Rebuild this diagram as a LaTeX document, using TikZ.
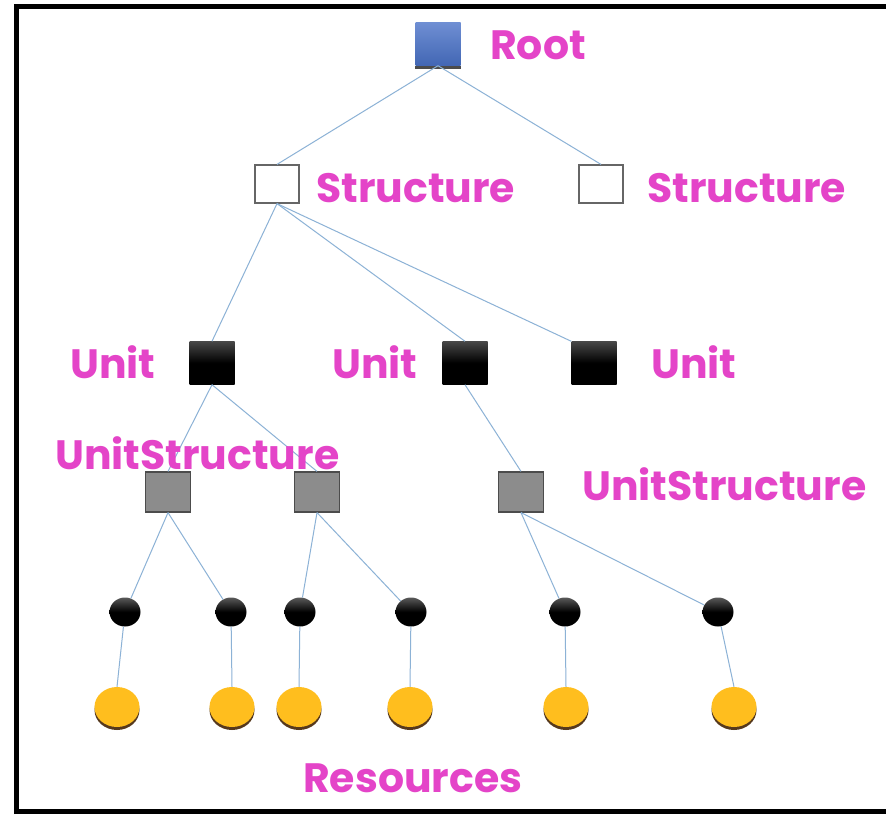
\documentclass[tikz,border=0pt]{standalone}
\usepackage{fontspec}
\setmainfont{Poppins}
\usetikzlibrary{shadows,shapes.geometric}
\definecolor{lbl}{RGB}{228,68,200}
\definecolor{edge}{RGB}{140,178,214}
\definecolor{rootblue}{RGB}{74,114,200}
\definecolor{gold}{RGB}{255,190,30}
\tikzset{
  lab/.style={text=lbl, font=\fontsize{41}{46}\selectfont\bfseries, inner sep=0pt},
  link/.style={draw=edge, line width=1pt},
  rootbox/.style={minimum width=45pt, minimum height=43pt, inner sep=0pt, top color=rootblue!80!white, bottom color=rootblue!90!black, draw=none},
  structbox/.style={minimum width=44pt, minimum height=38pt, inner sep=0pt, fill=white, draw=black!60, line width=1.2pt},
  unitbox/.style={minimum width=45pt, minimum height=43pt, inner sep=0pt, top color=black!72, bottom color=black, middle color=black, draw=none},
  usbox/.style={minimum width=45pt, minimum height=40pt, inner sep=0pt, fill=black!45, draw=black!70, line width=1.2pt},
  knot/.style={ellipse, minimum width=31pt, minimum height=29pt, inner sep=0pt, top color=black!65, bottom color=black, middle color=black},
  res/.style={ellipse, minimum width=45pt, minimum height=40pt, inner sep=0pt, fill=gold, drop shadow={shadow xshift=0pt, shadow yshift=-3pt, fill=black!55!brown, opacity=1}},
}
\begin{document}
\begin{tikzpicture}[x=1pt,y=-1pt]
\useasboundingbox (0,0) rectangle (886,814);
\fill[white] (0,0) rectangle (886,814);
% frame
\draw[line width=5pt] (16.5,814) -- (16.5,6.5) -- (886,6.5);
\draw[line width=5pt] (16.5,811.5) -- (886,811.5);

% nodes
\node[rootbox] (root) at (438,44) {};
\fill[black!70] (root.south west) rectangle ([yshift=-3pt]root.south east);
\node[structbox] (s1) at (277,184) {};
\node[structbox] (s2) at (601,184) {};
\node[unitbox] (u1) at (212,363) {};
\node[unitbox] (u2) at (465,363) {};
\node[unitbox] (u3) at (594,363) {};
\node[usbox] (us1) at (168,492) {};
\node[usbox] (us2) at (317,492) {};
\node[usbox] (us3) at (521,492) {};

\foreach \i/\x in {1/125,2/231,3/300,4/411,5/565,6/718}
  \node[knot] (k\i) at (\x,612) {};
\foreach \i/\x in {1/117,2/232,3/299,4/410,5/566,6/734}
  \node[res] (r\i) at (\x,707) {};

% edges
\draw[link] (root.south) -- (s1.north);
\draw[link] (root.south) -- (s2.north);
\draw[link] (s1.south) -- (u1.north);
\draw[link] (s1.south) -- (u2.north);
\draw[link] (s1.south) -- (u3.north west);
\draw[link] (u1.south) -- (us1.north);
\draw[link] (u1.south) -- (us2.north);
\draw[link] (u2.south) -- (us3.north);
\draw[link] (us1.south) -- (k1);
\draw[link] (us1.south) -- (k2);
\draw[link] (us2.south) -- (k3);
\draw[link] (us2.south) -- (k4);
\draw[link] (us3.south) -- (k5);
\draw[link] (us3.south) -- (k6);
\foreach \i in {1,...,6} \draw[link] (k\i) -- (r\i.north);

% labels
\node[lab, anchor=west] (lroot) at (490,45) {Root};
\node[lab, anchor=west] (ls1) at (316,188) {Structure};
\node[lab, anchor=west] (ls2) at (647,188) {Structure};
\node[lab, anchor=west] (lu1) at (70,362) {Unit};
\node[lab, anchor=west] (lu2) at (332,362) {Unit};
\node[lab, anchor=west] (lu3) at (651,362) {Unit};
\node[lab, anchor=west] (lus1) at (55,453) {UnitStructure};
\node[lab, anchor=west] (lus2) at (582,484) {UnitStructure};
\node[lab, anchor=west] (lres) at (303,778) {Resources};
\end{tikzpicture}
\end{document}
